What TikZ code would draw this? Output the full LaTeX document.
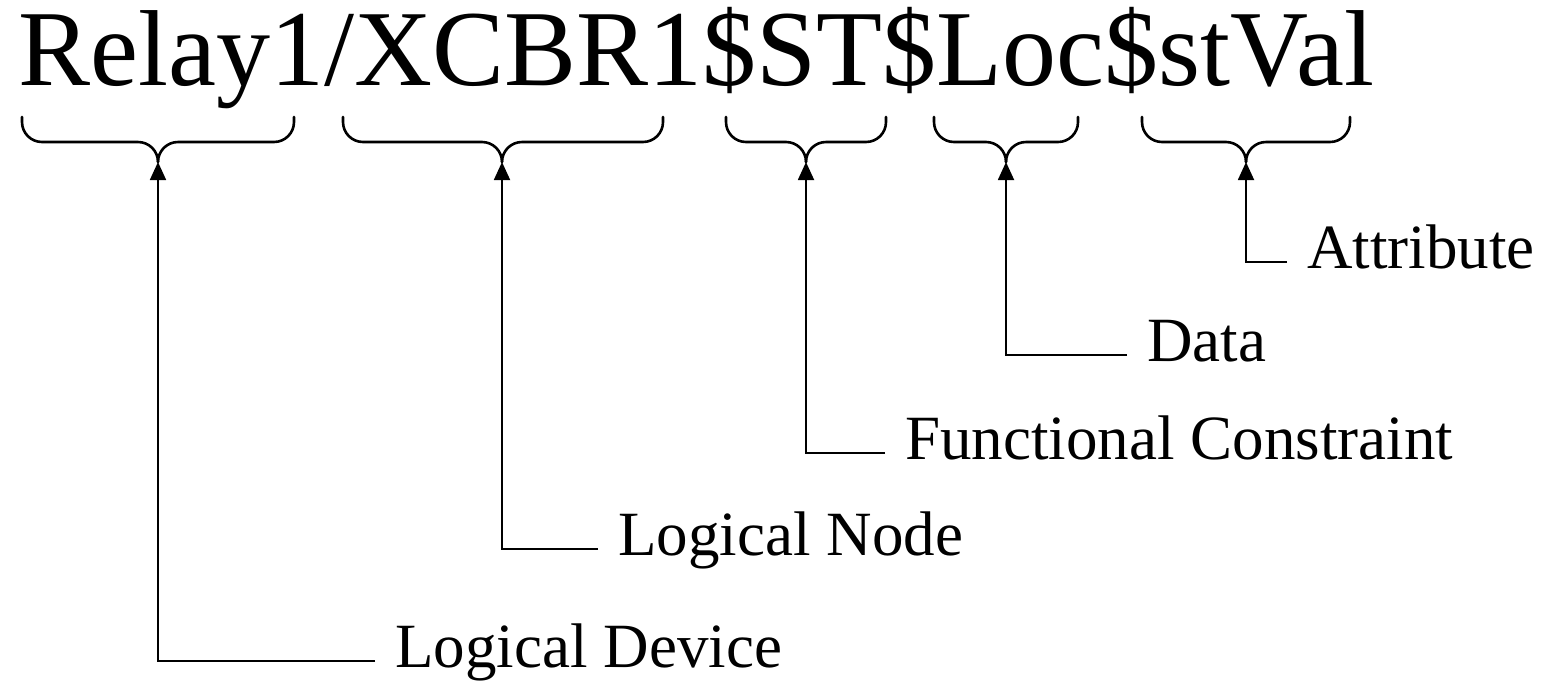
\documentclass[tikz,border=0pt]{standalone}
\usepackage{fontspec}
\setmainfont{Liberation Serif}
\usetikzlibrary{arrows.meta}
\newcommand{\mybrace}[4]{%
  \coordinate (#4) at (#2,162);
  \draw[bracestyle] (#1,117) -- (#1,142) -- (#2,142) -- (#4);
  \draw[bracestyle] (#3,117) -- (#3,142) -- (#2,142) -- (#4);
}
\begin{document}
\begin{tikzpicture}[x=0.5pt,y=-0.5pt,
  bracestyle/.style={line width=1.3pt, rounded corners=10pt, line cap=round},
  conn/.style={line width=0.9pt, -{Triangle[length=9pt,width=8pt]}},
  lab/.style={anchor=west, inner xsep=10pt, inner ysep=0pt, text height=0.66em, text depth=0pt,
    font=\fontsize{31.5}{35}\selectfont},
  titlestyle/.style={anchor=base west, inner sep=0pt, font=\fontsize{54}{60}\selectfont}]
\useasboundingbox (0,0) rectangle (1545,697);
\node[titlestyle] (title) at (18,85) {Relay1/XCBR1\$ST\$Loc\$stVal};
\mybrace{22}{158}{294}{t1}
\mybrace{343}{502}{663}{t2}
\mybrace{726}{806}{886}{t3}
\mybrace{934}{1006}{1078}{t4}
\mybrace{1142}{1246}{1350}{t5}
\node[lab] (attr) at (1287,262) {Attribute};
\node[lab] (data) at (1127,355) {Data};
\node[lab] (fc) at (885,453) {Functional Constraint};
\node[lab] (ln) at (598,549) {Logical Node};
\node[lab] (ld) at (375,661) {Logical Device};
\draw[conn] (attr.west) -| (t5);
\draw[conn] (data.west) -| (t4);
\draw[conn] (fc.west) -| (t3);
\draw[conn] (ln.west) -| (t2);
\draw[conn] (ld.west) -| (t1);
\end{tikzpicture}
\end{document}
